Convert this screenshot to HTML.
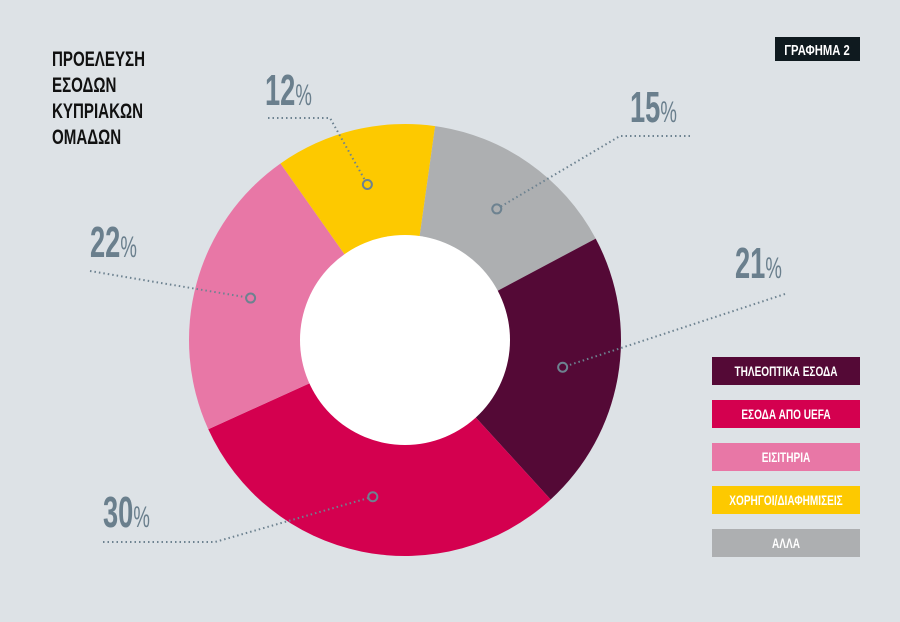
<!DOCTYPE html>
<html><head><meta charset="utf-8"><style>
body{margin:0;background:#dde2e6;}
svg{display:block;font-family:"Liberation Sans",sans-serif;}
</style></head><body>
<svg width="900" height="622" viewBox="0 0 900 622">
<rect width="900" height="622" fill="#dde2e6"/>
<g font-weight="bold" font-size="21" fill="#111">
<text x="52" y="66" transform="translate(52 0) scale(0.72 1) translate(-52 0)">ΠΡΟΕΛΕΥΣΗ</text>
<text x="52" y="92" transform="translate(52 0) scale(0.72 1) translate(-52 0)">ΕΣΟΔΩΝ</text>
<text x="52" y="118" transform="translate(52 0) scale(0.72 1) translate(-52 0)">ΚΥΠΡΙΑΚΩΝ</text>
<text x="52" y="144" transform="translate(52 0) scale(0.72 1) translate(-52 0)">ΟΜΑΔΩΝ</text>
</g>
<g>
<rect x="775" y="37" width="85" height="24" fill="#0f1a1f"/>
<text x="817" y="55" text-anchor="middle" fill="#fff" font-weight="bold" font-size="15" transform="translate(817 0) scale(0.75 1) translate(-817 0)">ΓΡΑΦΗΜΑ 2</text>
</g>
<g id="slices"></g>
<circle cx="405" cy="340" r="105" fill="#fff"/>
<g id="callouts" fill="none" stroke="#6d8290" stroke-width="2" stroke-dasharray="1.5 3"></g>
<g id="labels"></g>
<g id="legend"></g>
</svg>
<script>
const categories=["ΑΛΛΑ","ΤΗΛΕΟΠΤΙΚΑ ΕΣΟΔΑ","ΕΣΟΔΑ ΑΠΟ UEFA","ΕΙΣΙΤΗΡΙΑ","ΧΟΡΗΓΟΙ/ΔΙΑΦΗΜΙΣΕΙΣ"];
const values=[15,21,30,22,12];
const colors=["#adafb1","#540936","#d4004f","#e877a6","#fdc900"];
const legendOrder=[1,2,3,4,0];
const NS="http://www.w3.org/2000/svg";
const cx=405,cy=340,R=216,r0=105,startDeg=8;
const total=values.reduce((a,b)=>a+b,0);
function pt(deg,rad){const a=(deg-90)*Math.PI/180;return [cx+rad*Math.cos(a),cy+rad*Math.sin(a)];}
const sl=document.getElementById('slices');
let acc=startDeg;
// label layout: [text x, baseline y, line from x, line y, line to x] per slice
const lab=[[630,122,620,136,690,'end'],[735,278,595,294,785],[103,527,103,542,215],[90,257,90,271,232],[265,105,268,118,330]];
values.forEach((v,i)=>{
  const a0=acc,a1=acc+v/total*360;acc=a1;
  const [x0,y0]=pt(a0,R),[x1,y1]=pt(a1,R);
  const p=document.createElementNS(NS,'path');
  p.setAttribute('d',`M${cx},${cy} L${x0},${y0} A${R},${R} 0 ${a1-a0>180?1:0} 1 ${x1},${y1} Z`);
  p.setAttribute('fill',colors[i]);
  
  
  sl.appendChild(p);
  const mid=(a0+a1)/2;const [mx,my]=pt(mid,160);
  const L=lab[i];
  const cg=document.getElementById('callouts');
  const pl=document.createElementNS(NS,'polyline');
  const lx=(L[2]+L[4])/2<mx?L[4]:L[2];
  pl.setAttribute('points',`${L[2]},${L[3]} ${L[4]},${L[3]} ${mx},${my}`);
  if(i===0) pl.setAttribute('points',`${L[4]},${L[3]} ${L[2]},${L[3]} ${mx},${my}`);
  if(i===2) pl.setAttribute('points',`${L[2]},${L[3]} ${L[4]},${L[3]} ${mx},${my}`);
  if(i===1) pl.setAttribute('points',`${L[4]},${L[3]} ${mx},${my}`);
  if(i===3) pl.setAttribute('points',`${L[2]},${L[3]} ${mx},${my}`);
  
  
  cg.appendChild(pl);
  const c=document.createElementNS(NS,'circle');
  c.setAttribute('cx',mx);c.setAttribute('cy',my);c.setAttribute('r',4.5);
  c.setAttribute('fill',colors[i]);c.setAttribute('stroke','#6d8290');c.setAttribute('stroke-width','2');c.setAttribute('stroke-dasharray','none');
  
  
  cg.appendChild(c);
  const t=document.createElementNS(NS,'text');
  t.setAttribute('x',L[0]);t.setAttribute('y',L[1]);
  t.setAttribute('fill','#6a7f8d');t.setAttribute('font-size','44');t.setAttribute('font-weight','bold');
  t.setAttribute('transform',`translate(${L[0]} 0) scale(0.62 1) translate(${-L[0]} 0)`);
  t.innerHTML=v+'<tspan font-size="30" font-weight="normal">%</tspan>';
  
  
  document.getElementById('labels').appendChild(t);
});
const lg=document.getElementById('legend');
legendOrder.forEach((idx,k)=>{
  const y=357+k*43;
  const g=document.createElementNS(NS,'g');
  
  
  const rc=document.createElementNS(NS,'rect');
  rc.setAttribute('x',712);rc.setAttribute('y',y);rc.setAttribute('width',148);rc.setAttribute('height',28);rc.setAttribute('fill',colors[idx]);
  g.appendChild(rc);
  const t=document.createElementNS(NS,'text');
  t.setAttribute('x',786);t.setAttribute('y',y+19);t.setAttribute('text-anchor','middle');
  t.setAttribute('fill','#fff');t.setAttribute('font-weight','bold');t.setAttribute('font-size','14');
  t.setAttribute('transform','translate(786 0) scale(0.72 1) translate(-786 0)');
  t.textContent=categories[idx];
  g.appendChild(t);
  lg.appendChild(g);
});
</script>
</body></html>
